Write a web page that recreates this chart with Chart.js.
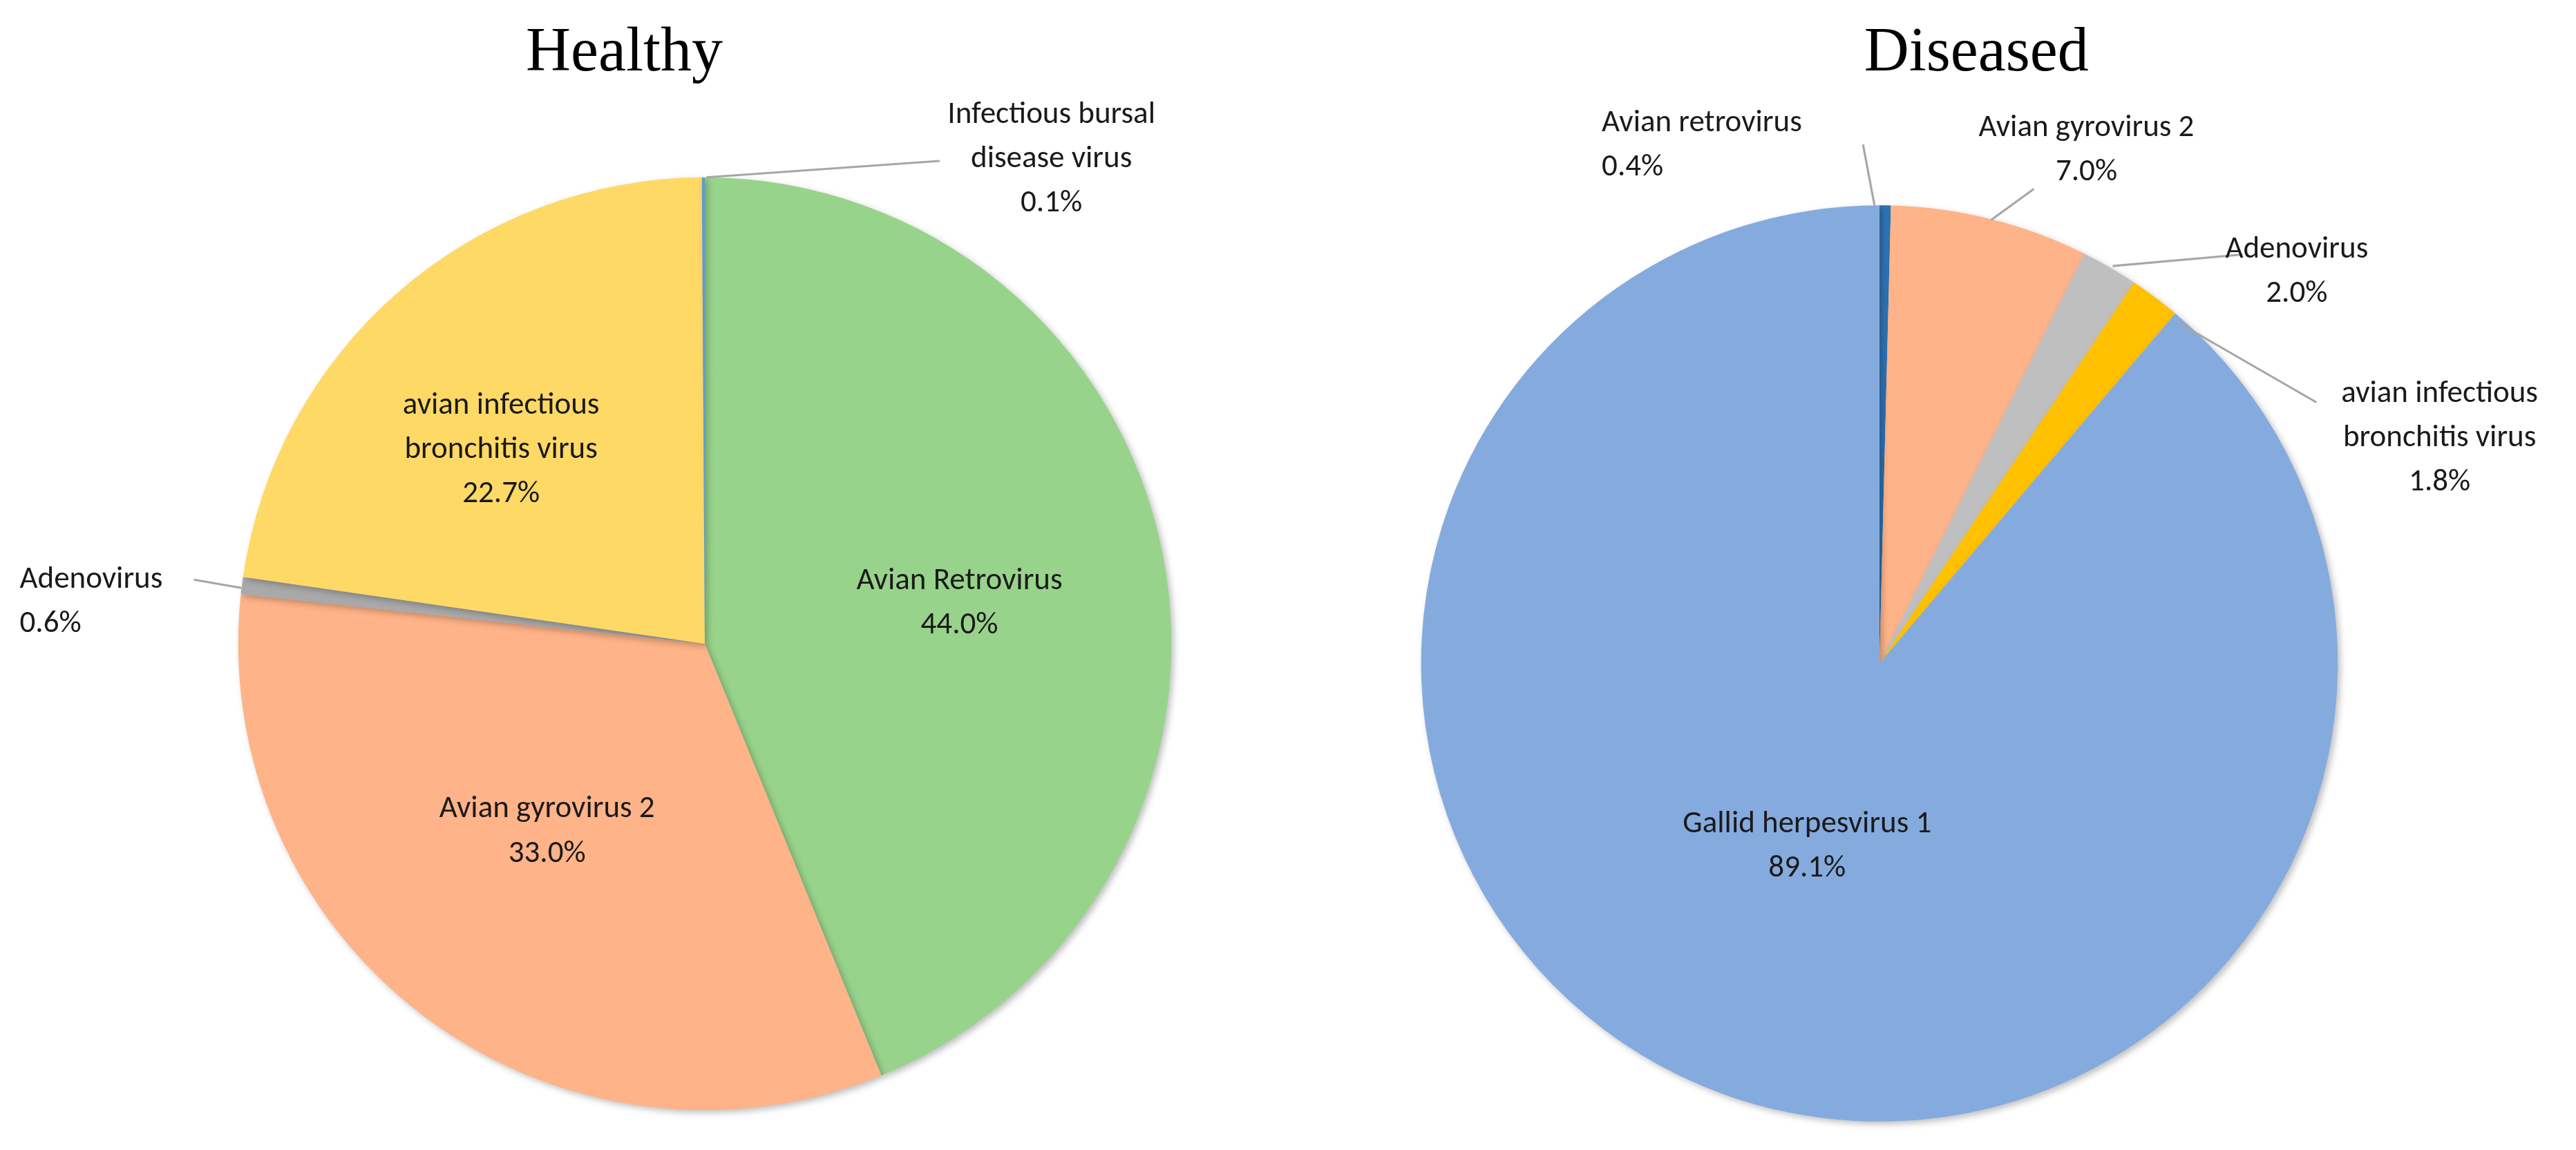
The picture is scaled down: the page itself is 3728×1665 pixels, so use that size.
<!DOCTYPE html>
<html><head><meta charset="utf-8">
<script src="https://cdn.jsdelivr.net/npm/chart.js@4/dist/chart.umd.min.js"></script>
<style>html,body{margin:0;padding:0;background:#fff;width:3728px;height:1665px;overflow:hidden}
canvas{position:absolute;left:0;top:0}</style></head>
<body>
<canvas id="h" width="3728" height="1665"></canvas>
<canvas id="d" width="3728" height="1665"></canvas>
<script>
const healthyLabels = ["Avian Retrovirus","Avian gyrovirus 2","Adenovirus","avian infectious bronchitis virus","Infectious bursal disease virus"];
const healthyValues = [44.0,33.0,0.6,22.7,0.1];
const healthyColors = ["#98D38B","#FFB388","#A9A9A9","#FFD966","#5B9BD5"];
const diseasedLabels = ["Avian retrovirus","Avian gyrovirus 2","Adenovirus","avian infectious bronchitis virus","Gallid herpesvirus 1"];
const diseasedValues = [0.4,7.0,2.0,1.8,89.1];
const diseasedColors = ["#2E75B6","#FFB388","#BFBFBF","#FFC000","#85ABDE"];

const S = 3728/1568;
const FONT = "Calibri, Carlito, 'Open Sans', sans-serif";
// label layout (display units): lines, x, y of first line, align, leader line
const healthyText = [
  {lines:["Avian Retrovirus","44.0%"],x:584,y:354,a:"center"},
  {lines:["Avian gyrovirus 2","33.0%"],x:333,y:493,a:"center"},
  {lines:["Adenovirus","0.6%"],x:12,y:353,a:"left",alt:[null,26],leader:[[118,353],[147,358]]},
  {lines:["avian infectious","bronchitis virus","22.7%"],x:305,y:247,a:"center"},
  {lines:["Infectious bursal","disease virus","0.1%"],x:640,y:70,a:"center",leader:[[430,108],[572,98]]}
];
const diseasedText = [
  {lines:["Avian retrovirus","0.4%"],x:975,y:75,a:"left",leader:[[1134,88],[1141,125]]},
  {lines:["Avian gyrovirus 2","7.0%"],x:1270,y:78,a:"center",leader:[[1212,134],[1238,115]]},
  {lines:["Adenovirus","2.0%"],x:1398,y:152,a:"center",leader:[[1286,162],[1365,155]]},
  {lines:["avian infectious","bronchitis virus","1.8%"],x:1485,y:240,a:"center",leader:[[1325,196],[1410,245]]},
  {lines:["Gallid herpesvirus 1","89.1%"],x:1100,y:502,a:"center"}
];
const labelPlugin = {
  id:"labs",
  afterDraw(chart){
    const ctx=chart.ctx, L=chart.options.plugins.labs.items;
    ctx.save();
    ctx.font=`${Math.round(19*S)}px ${FONT}`;
    ctx.fillStyle="#1a1a1a";ctx.textBaseline="middle";
    ctx.strokeStyle="#a6a6a6";ctx.lineWidth=1.3*S;
    L.forEach(l=>{
      if(l.leader){ctx.beginPath();ctx.moveTo(l.leader[0][0]*S,l.leader[0][1]*S);ctx.lineTo(l.leader[1][0]*S,l.leader[1][1]*S);ctx.stroke();}
      ctx.textAlign=l.a;
      l.lines.forEach((t,i)=>{
        let x=l.x;
        if(l.a==="left"&&l.lines.length===2&&i===1&&l.x===12) x=12;
        ctx.fillText(t,x*S,(l.y+i*27)*S);
      });
    });
    const t=chart.options.plugins.labs.title;
    ctx.font=`${Math.round(38*S)}px 'Liberation Serif', 'DejaVu Serif', serif`;
    ctx.fillStyle="#000";ctx.textAlign="center";
    ctx.fillText(t.text,t.x*S,t.y*S);
    ctx.restore();
  }
};
const shadowPlugin = {
  id:"shad",
  beforeDatasetsDraw(c){c.ctx.save();c.ctx.shadowColor="rgba(0,0,0,0.25)";c.ctx.shadowBlur=10;c.ctx.shadowOffsetX=4;c.ctx.shadowOffsetY=4;},
  afterDatasetsDraw(c){c.ctx.restore();}
};
function make(id,labels,values,colors,pad,items,title){
  new Chart(document.getElementById(id),{
    type:"pie",
    data:{labels,datasets:[{data:values,backgroundColor:colors,borderWidth:0}]},
    options:{responsive:false,animation:false,rotation:0,
      layout:{padding:pad},
      plugins:{legend:{display:false},tooltip:{enabled:false},labs:{items,title}}},
    plugins:[shadowPlugin,labelPlugin]
  });
}
// pie geometry (display units): centre & radius
function pad(cx,cy,r){return {left:(cx-r)*S,right:3728-(cx+r)*S,top:(cy-r)*S,bottom:1665-(cy+r)*S};}
make("h",healthyLabels,healthyValues,healthyColors,pad(429,392,284),healthyText,{text:"Healthy",x:380,y:33});
make("d",diseasedLabels,diseasedValues,diseasedColors,pad(1144,404,279),diseasedText,{text:"Diseased",x:1203,y:33});
</script></body></html>
